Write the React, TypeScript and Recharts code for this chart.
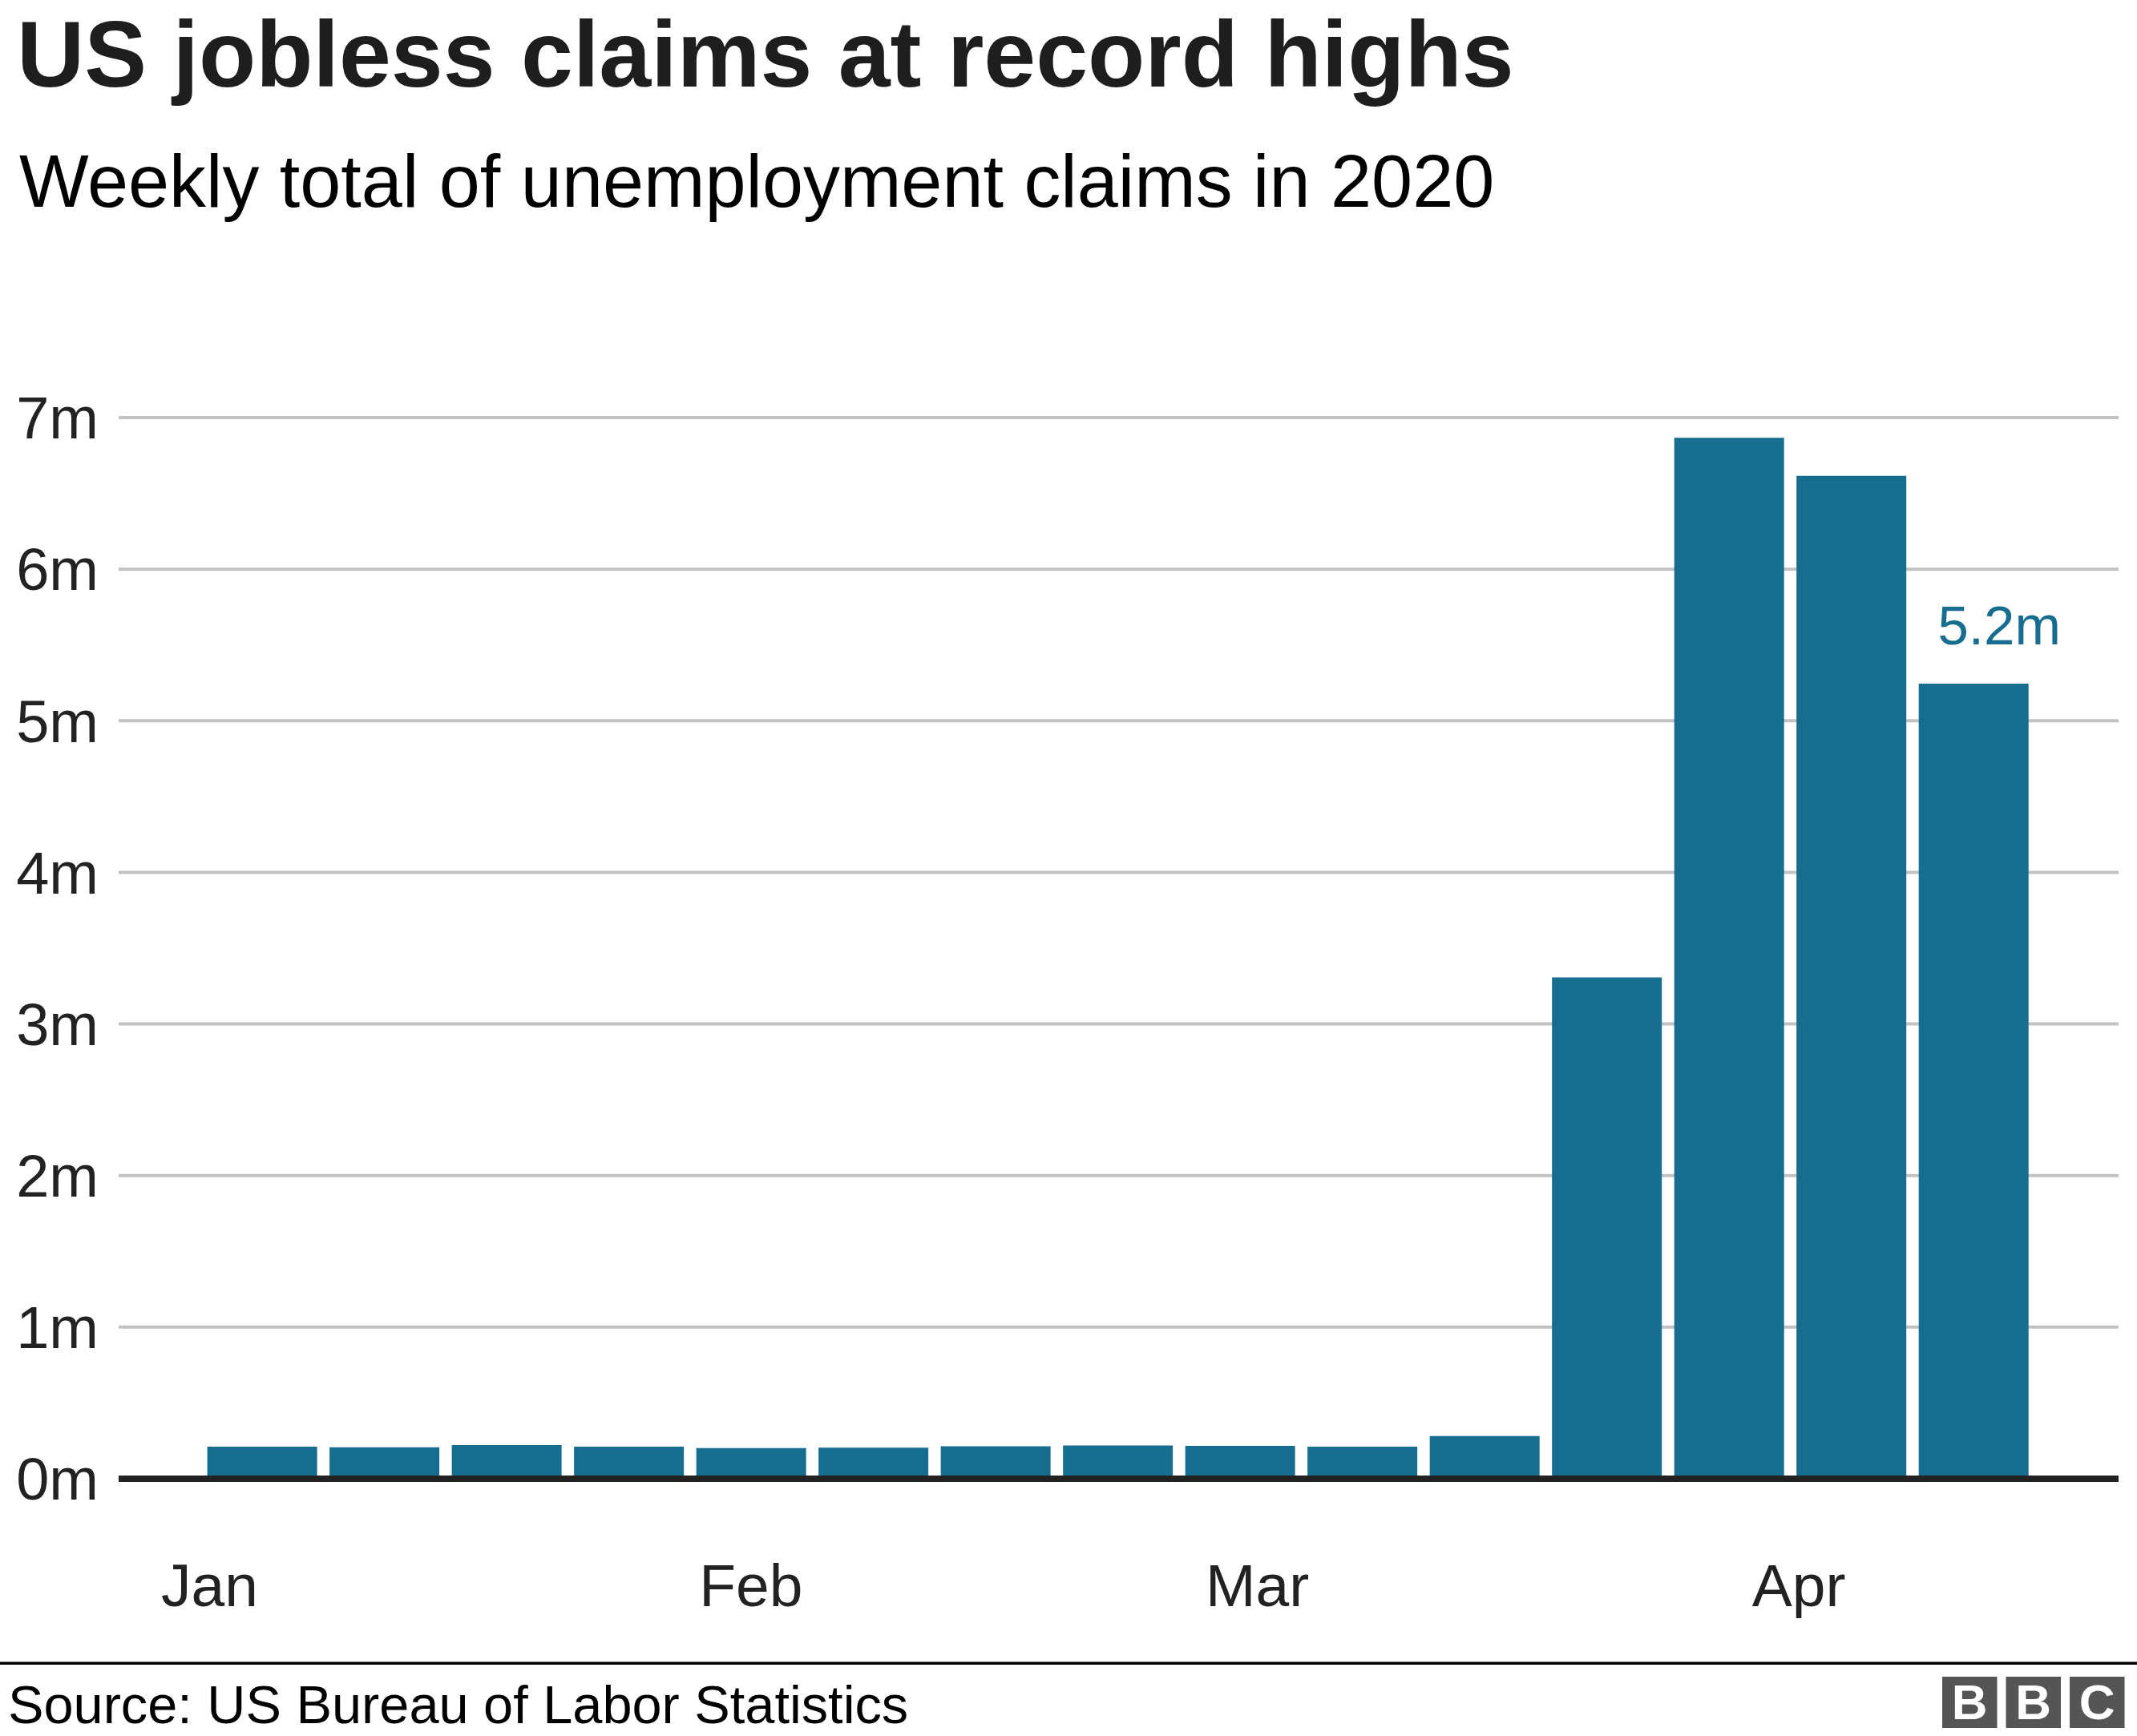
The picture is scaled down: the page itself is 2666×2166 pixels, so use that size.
import React from "react";
import {
  BarChart,
  Bar,
  XAxis,
  YAxis,
  CartesianGrid,
  ReferenceLine,
} from "recharts";

// Weekly initial unemployment claims, 2020 (week-ending dates)
const weekEnding = [
  "2020-01-04",
  "2020-01-11",
  "2020-01-18",
  "2020-01-25",
  "2020-02-01",
  "2020-02-08",
  "2020-02-15",
  "2020-02-22",
  "2020-02-29",
  "2020-03-07",
  "2020-03-14",
  "2020-03-21",
  "2020-03-28",
  "2020-04-04",
  "2020-04-11",
];
const claimsMillions = [
  0.212, 0.207, 0.222, 0.212, 0.202, 0.205, 0.214, 0.219, 0.217, 0.211, 0.282,
  3.307, 6.867, 6.615, 5.245,
];

const monthStarts = ["2020-01-01", "2020-02-01", "2020-03-01", "2020-04-01"];
const monthLabels = ["Jan", "Feb", "Mar", "Apr"];
const yTicks = [0, 1, 2, 3, 4, 5, 6, 7];

const BLUE = "#176d8f";
const FONT = '"Liberation Sans", Arial, Helvetica, sans-serif';

const dayOf = (s: string) =>
  (Date.parse(s) - Date.parse("2020-01-01")) / 86400000;

const data = weekEnding.map((d, i) => ({
  day: dayOf(d),
  claims: claimsMillions[i],
}));
const monthTicks = monthStarts.map(dayOf);

// only the latest week gets a value label
const renderLastLabel = (props: any) => {
  const { x, y, width, value, index } = props;
  if (index !== data.length - 1) return null;
  return (
    <text
      x={Number(x) + Number(width) / 2 + 32}
      y={Number(y) - 49}
      textAnchor="middle"
      fontSize={69}
      fontFamily={FONT}
      fill={BLUE}
    >
      {`${Number(value).toFixed(1)}m`}
    </text>
  );
};

export default function App() {
  return (
    <div
      style={{
        position: "relative",
        width: 2666,
        height: 2166,
        background: "#fff",
        overflow: "hidden",
      }}
    >
      <style>{`body{margin:0}`}</style>
      <div style={{ position: "absolute", left: 0, top: 0 }}>
        <BarChart
          width={2666}
          height={2166}
          data={data}
          margin={{ top: 521, right: 23, left: 0, bottom: 121 }}
        >
          <CartesianGrid vertical={false} stroke="#c2c2c2" strokeWidth={4} />
          <XAxis
            type="number"
            dataKey="day"
            domain={[-5.21, 109.31]}
            ticks={monthTicks}
            tickFormatter={(v) => monthLabels[monthTicks.indexOf(v)] ?? ""}
            axisLine={false}
            tickLine={false}
            tickSize={0}
            tickMargin={106}
            height={200}
            interval={0}
            allowDataOverflow
            tick={{ fill: "#222", fontSize: 75, fontFamily: FONT }}
          />
          <YAxis
            domain={[0, 7]}
            ticks={yTicks}
            tickFormatter={(v) => `${v}m`}
            axisLine={false}
            tickLine={false}
            tickSize={0}
            tickMargin={25}
            width={148}
            interval={0}
            tick={{ fill: "#222", fontSize: 74, fontFamily: FONT }}
          />
          <Bar
            dataKey="claims"
            fill={BLUE}
            barSize={137}
            isAnimationActive={false}
            label={renderLastLabel}
          />
          <ReferenceLine y={0} stroke="#222" strokeWidth={8} />
        </BarChart>
      </div>

      {/* heading, footer and logo */}
      <svg
        width={2666}
        height={2166}
        style={{ position: "absolute", left: 0, top: 0, pointerEvents: "none" }}
      >
        <text
          x={21}
          y={108}
          fontSize={116.7}
          fontWeight="bold"
          fontFamily={FONT}
          fill="#1e1e1e"
        >
          US jobless claims at record highs
        </text>
        <text x={24} y={258} fontSize={91.8} fontFamily={FONT} fill="#000">
          Weekly total of unemployment claims in 2020
        </text>

        <rect x={0} y={2073.5} width={2666} height={3.5} fill="#000" />
        <text x={10} y={2150} fontSize={66.7} fontFamily={FONT} fill="#000">
          Source: US Bureau of Labor Statistics
        </text>

        {["B", "B", "C"].map((ch, i) => (
          <g key={i}>
            <rect
              x={2423 + i * 79.5}
              y={2092}
              width={68.5}
              height={64}
              fill="#555"
            />
            <text
              x={2423 + i * 79.5 + 34.25}
              y={2145}
              textAnchor="middle"
              fontSize={62}
              fontWeight="bold"
              fontFamily={FONT}
              fill="#fff"
            >
              {ch}
            </text>
          </g>
        ))}
      </svg>
    </div>
  );
}
